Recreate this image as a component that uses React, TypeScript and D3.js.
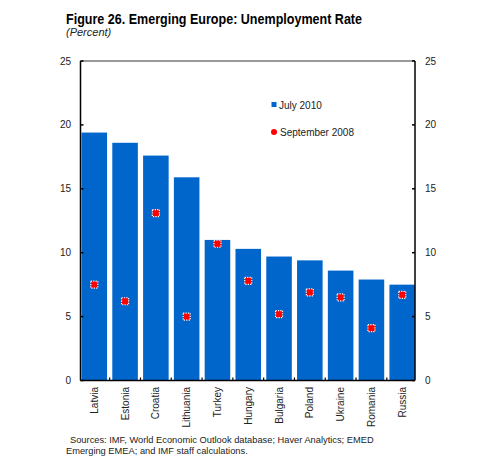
import { useEffect, useRef } from "react";
import * as d3 from "d3";

const countries = ["Latvia", "Estonia", "Croatia", "Lithuania", "Turkey", "Hungary", "Bulgaria", "Poland", "Ukraine", "Romania", "Russia"];
const july2010 = [19.4, 18.6, 17.6, 15.9, 11.0, 10.3, 9.7, 9.4, 8.6, 7.9, 7.5];
const sept2008 = [7.5, 6.2, 13.1, 5.0, 10.7, 7.8, 5.2, 6.9, 6.5, 4.1, 6.7];
const yTicks = [0, 5, 10, 15, 20, 25];

const W = 500;
const H = 459;
const BLUE = "#0066cc";
const FONT = "Arial, 'Liberation Sans', sans-serif";

export default function App() {
  const svgRef = useRef<SVGSVGElement>(null);

  useEffect(() => {
    if (!svgRef.current) return;
    const svg = d3.select(svgRef.current);
    svg.selectAll("*").remove();

    const left = 80.5;
    const right = 415;
    const top = 61;
    const bottom = 380.5;

    const x = d3.scaleBand<string>().domain(countries).range([left + 1, right]).paddingInner(0.17).paddingOuter(0);
    const y = d3.scaleLinear().domain([0, 25]).range([bottom, top]);

    // title (condensed bold in the original)
    svg.append("text").attr("x", 66).attr("y", 24).attr("font-family", FONT).attr("font-size", 14.5)
      .attr("font-weight", "bold").attr("fill", "#000")
      .attr("textLength", 296).attr("lengthAdjust", "spacingAndGlyphs")
      .text("Figure 26. Emerging Europe: Unemployment Rate");
    svg.append("text").attr("x", 66).attr("y", 36).attr("font-family", FONT).attr("font-size", 11)
      .attr("font-style", "italic").attr("fill", "#222").text("(Percent)");

    // bars
    svg.append("g").selectAll("rect").data(countries).join("rect")
      .attr("x", (d) => x(d)!)
      .attr("y", (_d, i) => y(july2010[i]))
      .attr("width", x.bandwidth())
      .attr("height", (_d, i) => y(0) - y(july2010[i]))
      .attr("fill", BLUE);

    // markers
    const ms = 7;
    svg.append("g").selectAll("rect").data(countries).join("rect")
      .attr("x", (d) => x(d)! + x.bandwidth() / 2 - ms / 2)
      .attr("y", (_d, i) => y(sept2008[i]) - ms / 2)
      .attr("width", ms)
      .attr("height", ms)
      .attr("fill", "#ff0000")
      .attr("stroke", "#ffffff")
      .attr("stroke-width", 1.2)
      .attr("stroke-dasharray", "1.2,1.2");

    // frame
    svg.append("line").attr("x1", left).attr("x2", right).attr("y1", top).attr("y2", top)
      .attr("stroke", "#777").attr("stroke-width", 1.5);
    svg.append("line").attr("x1", left).attr("x2", left).attr("y1", top).attr("y2", bottom)
      .attr("stroke", "#000").attr("stroke-width", 1.5);
    svg.append("line").attr("x1", right).attr("x2", right).attr("y1", top).attr("y2", bottom)
      .attr("stroke", "#000").attr("stroke-width", 1.5);
    svg.append("line").attr("x1", left).attr("x2", right).attr("y1", bottom).attr("y2", bottom)
      .attr("stroke", "#000").attr("stroke-width", 1.5);

    // y ticks both sides
    const tk = svg.append("g");
    yTicks.forEach((t) => {
      tk.append("line").attr("x1", left).attr("x2", left + 3).attr("y1", y(t)).attr("y2", y(t))
        .attr("stroke", "#000").attr("stroke-width", 1.5);
      tk.append("line").attr("x1", right - 3).attr("x2", right).attr("y1", y(t)).attr("y2", y(t))
        .attr("stroke", "#000").attr("stroke-width", 1.5);
      tk.append("text").attr("x", 71).attr("y", y(t)).attr("dy", "0.35em").attr("text-anchor", "end")
        .attr("font-family", FONT).attr("font-size", 10).attr("fill", "#222").text(t);
      tk.append("text").attr("x", 425).attr("y", y(t)).attr("dy", "0.35em").attr("text-anchor", "start")
        .attr("font-family", FONT).attr("font-size", 10).attr("fill", "#222").text(t);
    });

    // x ticks between bars
    const step = x.step();
    countries.slice(1).forEach((c) => {
      const xx = x(c)! - (step - x.bandwidth()) / 2;
      tk.append("line").attr("x1", xx).attr("x2", xx).attr("y1", bottom).attr("y2", bottom - 3)
        .attr("stroke", "#000").attr("stroke-width", 1.2);
    });

    // category labels
    svg.append("g").selectAll("text").data(countries).join("text")
      .attr("transform", (d) => `translate(${x(d)! + x.bandwidth() / 2},387) rotate(-90)`)
      .attr("dy", "0.35em")
      .attr("text-anchor", "end")
      .attr("font-family", FONT).attr("font-size", 10).attr("fill", "#222")
      .text((d) => d);

    // legend
    svg.append("rect").attr("x", 271.5).attr("y", 102).attr("width", 5).attr("height", 5).attr("fill", BLUE);
    svg.append("text").attr("x", 279).attr("y", 105).attr("dy", "0.35em").attr("font-family", FONT)
      .attr("font-size", 10).attr("fill", "#222").text("July 2010");
    svg.append("circle").attr("cx", 274).attr("cy", 132).attr("r", 3).attr("fill", "#ff0000");
    svg.append("text").attr("x", 280).attr("y", 132.5).attr("dy", "0.35em").attr("font-family", FONT)
      .attr("font-size", 10).attr("fill", "#222").text("September 2008");

    // sources
    svg.append("text").attr("x", 70).attr("y", 443).attr("font-family", FONT).attr("font-size", 9.3)
      .attr("fill", "#222").text("Sources: IMF, World Economic Outlook database; Haver Analytics; EMED");
    svg.append("text").attr("x", 66).attr("y", 454).attr("font-family", FONT).attr("font-size", 9.3)
      .attr("fill", "#222").text("Emerging EMEA; and IMF staff calculations.");
  }, []);

  return (
    <svg ref={svgRef} width={W} height={H} style={{ position: "absolute", left: 0, top: 0, background: "#fff" }} />
  );
}
